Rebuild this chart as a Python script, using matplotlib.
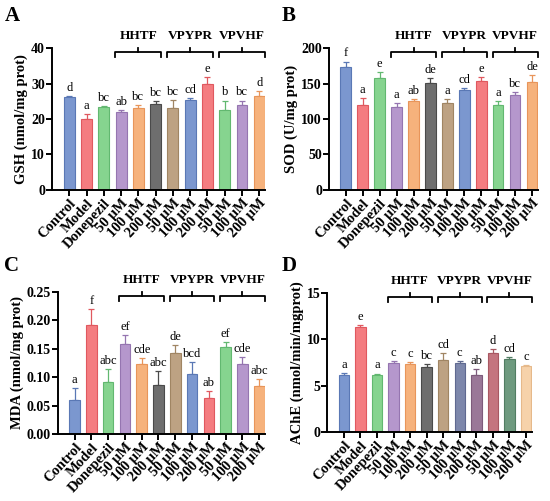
import numpy as np
import matplotlib.pyplot as plt
from matplotlib import transforms

plt.rcParams["font.family"] = ["Liberation Serif", "DejaVu Serif"]

categories = ["Control", "Model", "Donepezil", "50 μM", "100 μM", "200 μM",
              "50 μM", "100 μM", "200 μM", "50 μM", "100 μM", "200 μM"]
groups = ["HHTF", "VPYPR", "VPVHF"]

gsh = [26.2, 20.1, 23.3, 22.1, 23.1, 24.2, 23.1, 25.3, 30.0, 22.6, 24.0, 26.6]
gsh_err = [0.3, 1.3, 0.4, 0.3, 0.8, 0.8, 2.2, 0.5, 1.8, 2.6, 1.2, 1.4]
gsh_sig = ["d", "a", "bc", "ab", "bc", "bc", "bc", "cd", "e", "b", "bc", "d"]

sod = [173, 120, 158, 117, 126, 151, 122, 141, 154, 120, 134, 152]
sod_err = [8, 10, 8, 5, 2, 7, 6, 3, 5, 5, 4, 10]
sod_sig = ["f", "a", "e", "a", "ab", "de", "a", "cd", "e", "a", "bc", "de"]

mda = [0.060, 0.192, 0.092, 0.159, 0.124, 0.087, 0.143, 0.105, 0.063, 0.154, 0.123, 0.085]
mda_err = [0.021, 0.028, 0.023, 0.016, 0.009, 0.024, 0.014, 0.021, 0.013, 0.008, 0.013, 0.011]
mda_sig = ["a", "f", "abc", "ef", "cde", "abc", "de", "bcd", "ab", "ef", "cde", "abc"]

ache = [6.1, 11.35, 6.1, 7.4, 7.3, 7.0, 7.8, 7.4, 6.2, 8.5, 7.85, 7.1]
ache_err = [0.25, 0.2, 0.2, 0.25, 0.2, 0.3, 0.7, 0.3, 0.6, 0.5, 0.25, 0.15]
ache_sig = ["a", "e", "a", "c", "c", "bc", "cd", "c", "ab", "d", "cd", "c"]

# fill, edge
blue = ("#7b97cf", "#5a78b5")
red = ("#f47c80", "#e0585f")
green = ("#86d48f", "#62b870")
purple = ("#b597cc", "#9575b0")
orange = ("#f6b27c", "#e8955a")
gray = ("#6e6e6e", "#4a4a4a")
tan = ("#bda283", "#a08563")
colors_abc = [blue, red, green, purple, orange, gray, tan, blue, red, green, purple, orange]
colors_d = [blue, red, green, purple, orange, gray, tan,
            ("#7d87ab", "#5f6990"), ("#9a7898", "#7d5b7b"),
            ("#c4757f", "#a85862"), ("#6e9a7f", "#517d62"), ("#f6d2aa", "#e6b98a")]


def panel(rect, vals, errs, sig, cols, ylabel, ymax, step, fmt, letter, lpos):
    ax = fig.add_axes(rect)
    x = np.arange(len(vals))
    for i in x:
        fc, ec = cols[i]
        ax.bar(i, vals[i], width=0.63, color=fc, edgecolor=ec, linewidth=0.8, zorder=2)
        ax.errorbar(i, vals[i], yerr=[[0], [errs[i]]], ecolor=ec, elinewidth=0.9,
                    capsize=2.5, capthick=0.9, zorder=1)
        ax.annotate(sig[i], (i, vals[i] + errs[i]), xytext=(0, 1.5), textcoords="offset points",
                    ha="center", va="bottom", fontsize=9)
    ax.set_xlim(-1.0, 11.35)
    ax.set_ylim(0, ymax)
    ax.set_yticks(np.arange(0, ymax + step / 2, step))
    ax.yaxis.set_major_formatter(fmt)
    ax.set_xticks(x)
    ax.set_xticklabels(categories, rotation=47, ha="right", rotation_mode="anchor",
                       fontsize=10.5, fontweight="bold")
    for t in ax.get_yticklabels():
        t.set_fontweight("bold")
        t.set_fontsize(10)
    ax.set_ylabel(ylabel, fontsize=10.5, fontweight="bold", labelpad=2)
    for s in ["top", "right"]:
        ax.spines[s].set_visible(False)
    for s in ["left", "bottom"]:
        ax.spines[s].set_linewidth(1.4)
    ax.tick_params(width=1.4, length=4, pad=1)

    tr = transforms.blended_transform_factory(ax.transData, ax.transAxes)
    for g, name in enumerate(groups):
        x0 = 3 + 3 * g - 0.33
        x1 = 5 + 3 * g + 0.33
        xm = (x0 + x1) / 2
        ax.plot([x0, x0, x1, x1], [0.935, 0.97, 0.97, 0.935], color="black", lw=1.3,
                transform=tr, clip_on=False)
        ax.plot([xm, xm], [0.97, 1.0], color="black", lw=1.3, transform=tr, clip_on=False)
        ax.text(xm, 1.045, name, transform=tr, ha="center", va="bottom",
                fontsize=9.5, fontweight="bold")
    fig.text(lpos[0], lpos[1], letter, fontsize=15, fontweight="bold", ha="left", va="center")
    return ax


fig = plt.figure(figsize=(5.5, 5.01), dpi=100)

panel([0.0945, 0.621, 0.388, 0.283], gsh, gsh_err, gsh_sig, colors_abc,
      "GSH (nmol/mg prot)", 40, 10, "{x:.0f}", "A", (0.008, 0.968))
panel([0.598, 0.621, 0.380, 0.283], sod, sod_err, sod_sig, colors_abc,
      "SOD (U/mg prot)", 200, 50, "{x:.0f}", "B", (0.512, 0.968))
panel([0.105, 0.134, 0.377, 0.283], mda, mda_err, mda_sig, colors_abc,
      "MDA (nmol/mg prot)", 0.25, 0.05, "{x:.2f}", "C", (0.008, 0.470))
panel([0.595, 0.138, 0.372, 0.277], ache, ache_err, ache_sig, colors_d,
      "AChE (nmol/min/mgprot)", 15, 5, "{x:.0f}", "D", (0.512, 0.470))

fig.savefig("out.png", dpi=100)
